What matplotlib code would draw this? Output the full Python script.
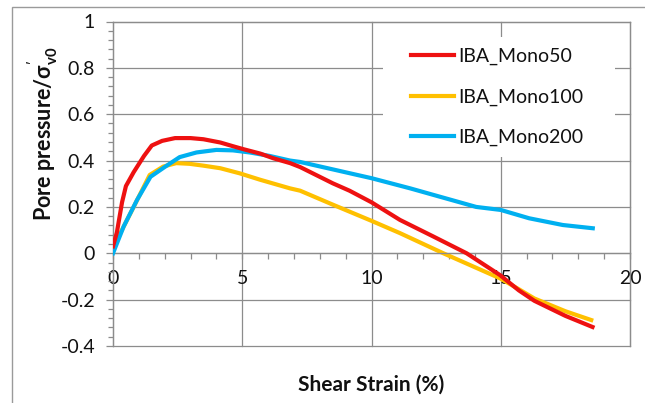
import matplotlib
matplotlib.use("Agg")
from matplotlib import pyplot as plt
from matplotlib.patches import Rectangle
from matplotlib.ticker import MultipleLocator

plt.rcParams['font.family'] = ['Lato', 'DejaVu Sans']
plt.rcParams['mathtext.fontset'] = 'custom'
plt.rcParams['mathtext.rm'] = 'Lato'
plt.rcParams['mathtext.bf'] = 'Lato:bold'

# IBA_Mono50
strain_50 = [0, 0.15, 0.35, 0.5, 0.8, 1.2, 1.5, 1.9, 2.4, 3.0, 3.5, 4.15, 4.7, 5.05, 5.7, 6.2,
             6.85, 7.24, 8.5, 9.15, 10.0, 11.1, 12.4, 13.68, 14.97, 15.7, 16.3, 17.5, 18.55]
pp_50 = [0.03, 0.09, 0.22, 0.29, 0.35, 0.42, 0.465, 0.485, 0.497, 0.497, 0.492, 0.478, 0.46, 0.449,
         0.43, 0.41, 0.389, 0.372, 0.302, 0.27, 0.22, 0.144, 0.072, 0.0, -0.094, -0.16, -0.205,
         -0.27, -0.318]

# IBA_Mono100
strain_100 = [0, 0.28, 0.8, 1.42, 1.94, 2.45, 2.96, 3.5, 4.15, 4.9, 5.7, 6.85, 7.24, 8.5, 10.0,
              11.1, 12.78, 14.97, 15.7, 16.3, 17.5, 18.5]
pp_100 = [0.014, 0.086, 0.2, 0.338, 0.374, 0.389, 0.386, 0.378, 0.367, 0.345, 0.317, 0.28, 0.27,
          0.21, 0.14, 0.087, 0.0, -0.108, -0.155, -0.195, -0.25, -0.288]

# IBA_Mono200
strain_200 = [0, 0.41, 0.93, 1.45, 1.97, 2.58, 3.23, 4.0, 4.64, 5.29, 6.06, 6.85, 7.24, 10.0,
              11.5, 14.05, 15.0, 16.1, 17.4, 18.56]
pp_200 = [0.0, 0.115, 0.23, 0.33, 0.37, 0.415, 0.435, 0.446, 0.444, 0.435, 0.42, 0.40, 0.394,
          0.324, 0.28, 0.2, 0.187, 0.151, 0.122, 0.108]

labels = ['IBA_Mono50', 'IBA_Mono100', 'IBA_Mono200']
colors = ['#EE1111', '#FFC000', '#00B0F0']

W, H = 645, 403
fig = plt.figure(figsize=(6.45, 4.03), dpi=100)
ax = fig.add_axes([113 / W, 1 - 346 / H, 517 / W, 324.5 / H])

gcol = '#8c8c8c'
ax.set_axisbelow(True)
ax.set_xlim(0, 20)
ax.set_ylim(-0.4, 1)
ax.xaxis.set_major_locator(MultipleLocator(5))
ax.xaxis.set_minor_locator(MultipleLocator(1))
ax.yaxis.set_major_locator(MultipleLocator(0.2))
ax.yaxis.set_minor_locator(MultipleLocator(0.04))
ax.grid(True, which='major', color=gcol, lw=0.9, clip_on=False)

for s in ['left', 'right', 'top', 'bottom']:
    ax.spines[s].set_color(gcol)
    ax.spines[s].set_linewidth(0.9)
ax.spines['bottom'].set_position(('data', 0))

ax.tick_params(axis='both', which='both', direction='out', color=gcol, width=0.9,
               labelsize=14, labelcolor='#111111')
ax.tick_params(axis='y', which='major', length=5, pad=8)
ax.tick_params(axis='y', which='minor', length=3.5)
ax.tick_params(axis='x', which='major', length=4, pad=8)
ax.tick_params(axis='x', which='minor', length=4)

ax.set_yticks([-0.4, -0.2, 0, 0.2, 0.4, 0.6, 0.8, 1.0])
ax.set_yticklabels(['-0.4', '-0.2', '0', '0.2', '0.4', '0.6', '0.8', '1'])
ax.set_xticks([0, 5, 10, 15, 20])
ax.set_xticklabels(['0', '5', '10', '15', '20'])

ax.plot(strain_50, pp_50, color=colors[0], lw=3, label=labels[0], zorder=3)
ax.plot(strain_100, pp_100, color=colors[1], lw=3, label=labels[1], zorder=2.5)
ax.plot(strain_200, pp_200, color=colors[2], lw=3, label=labels[2], zorder=2.7)

# white legend background hiding the gridlines
ax.add_patch(Rectangle((270 / 517, (346 - 157) / 324.5), 232 / 517, 120 / 324.5,
                       transform=ax.transAxes, facecolor='white', edgecolor='none', zorder=1))
h, l = ax.get_legend_handles_labels()
leg = ax.legend(h, l, loc='center left', bbox_to_anchor=((411 - 113) / 517, (346 - 97.2) / 324.5),
                frameon=False, fontsize=14, borderpad=0, borderaxespad=0,
                handlelength=2.2, handletextpad=0.25, labelspacing=1.2)
for t in leg.get_texts():
    t.set_color('#111111')

fig.text(371 / W, 1 - 385 / H, 'Shear Strain (%)', ha='center', va='center',
         fontsize=15, fontweight='bold', color='#111111')
fig.text(43 / W, 1 - 134 / H, r"Pore pressure/σ$_{\mathbf{v0}}^{\mathbf{'}}$", ha='center',
         va='center', rotation=90, fontsize=15.5, fontweight='bold', color='#111111')

# outer chart border
fig.patches.append(Rectangle((12 / W, -0.5), 2, 1.5 - 7 / H, transform=fig.transFigure,
                             fill=False, edgecolor='#9a9a9a', lw=1))

fig.savefig('out.png', dpi=100)
